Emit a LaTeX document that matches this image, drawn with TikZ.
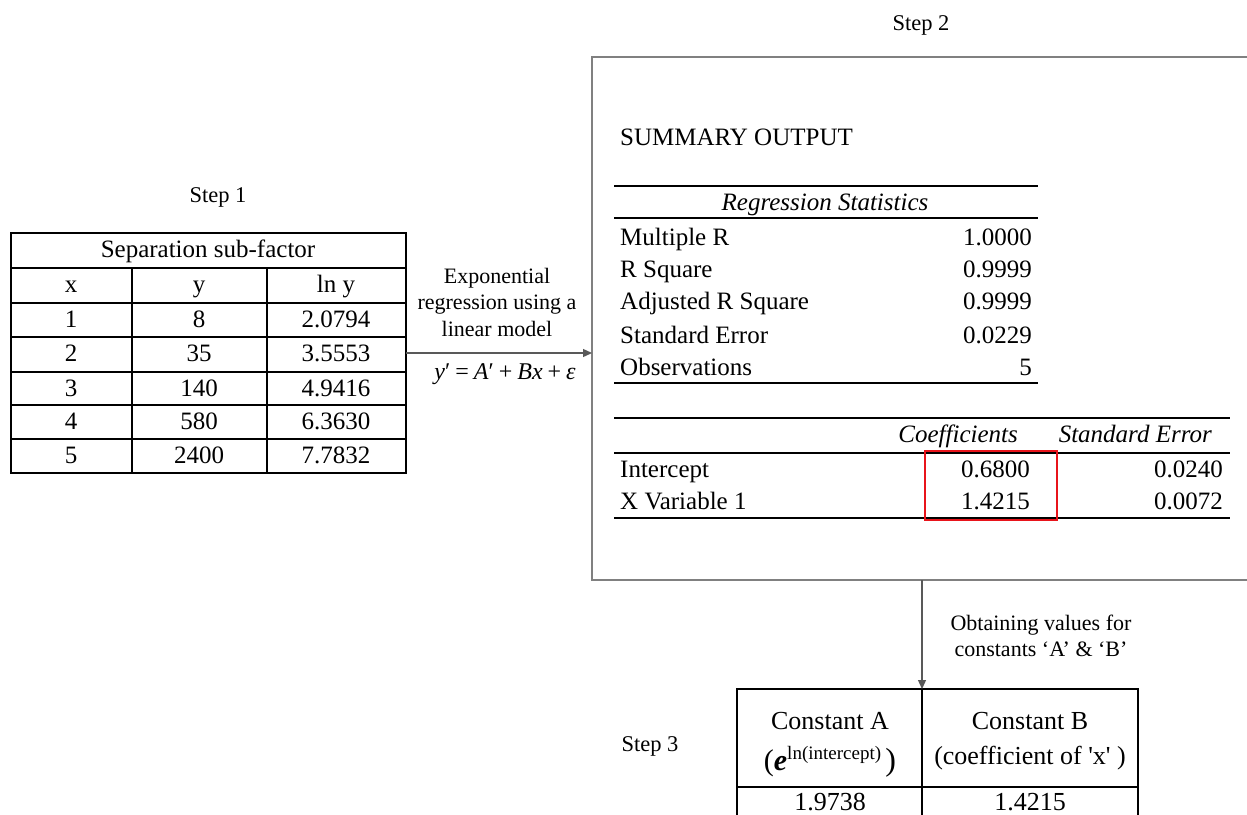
\documentclass[tikz,border=0pt]{standalone}
\usepackage{fontspec}
\setmainfont{Liberation Serif}[Ligatures=TeXOff]
\usetikzlibrary{arrows.meta}
\definecolor{frame}{HTML}{808080}
\definecolor{arrowgrey}{HTML}{595959}
\definecolor{markred}{HTML}{E8141B}
\begin{document}
\begin{tikzpicture}[x=1pt,y=-1pt,
  txt/.style={inner sep=0pt,text height=17pt,text depth=5pt,font=\fontsize{25}{28}\selectfont},
  big/.style={inner sep=0pt,font=\fontsize{26}{29}\selectfont},
  lbl/.style={inner sep=0pt,font=\fontsize{22.5}{25}\selectfont},
  note/.style={inner sep=0pt,font=\fontsize{22}{26.5}\selectfont,align=center},
  cell/.style={draw=black,line width=1.3pt},
  thick rule/.style={line width=2.6pt},
  thin rule/.style={line width=1.6pt},
  flow/.style={draw=arrowgrey,line width=1.3pt,-{Triangle[length=9pt,width=8pt]}},
  blank/.style={inner sep=0pt,outer sep=0pt}]
\useasboundingbox (0,0) rectangle (1247,814);
\begin{scope}
\clip (0,0) rectangle (1247,814);

% ---------- Step 1: data table ----------
\node[lbl] (s1) at (218,197) {Step 1};
\node[blank,draw=black,line width=1.3pt,minimum width=395pt,minimum height=240pt] (tab1) at (208.5,353) {};
\draw[cell] (11,268) -- (406,268);
\foreach \yy in {303,337,372,405,439} \draw[cell] (11,\yy) -- (406,\yy);
\draw[cell] (132,268) -- (132,473);
\draw[cell] (267,268) -- (267,473);
\node[txt] at (208,251) {Separation sub-factor};
\node[txt] at (71,286) {x};
\node[txt] at (199,286) {y};
\node[txt] at (336,286) {ln y};
\foreach \yy/\a/\b/\c in {321/1/8/2.0794, 355/2/35/3.5553, 390/3/140/4.9416, 423/4/580/6.3630, 457/5/2400/7.7832}{
  \node[txt] at (71,\yy) {\a};
  \node[txt] at (199,\yy) {\b};
  \node[txt] at (336,\yy) {\c};
}

% ---------- Step 2: regression output ----------
\node[lbl] (s2) at (921,25) {Step 2};
\node[blank,draw=frame,line width=1.4pt,minimum width=668pt,minimum height=523pt] (box) at (926,318.5) {};
\node[txt,anchor=west] at (620,139) {SUMMARY OUTPUT};

\draw[thick rule] (614,186) -- (1038,186);
\node[txt,font=\fontsize{25}{28}\selectfont\itshape] at (825,204) {Regression Statistics};
\draw[thin rule] (614,218) -- (1038,218);
\foreach \yy/\name/\val in {239/Multiple R/1.0000, 271/R Square/0.9999, 303/Adjusted R Square/0.9999, 337/Standard Error/0.0229, 369/Observations/5}{
  \node[txt,anchor=west] at (620,\yy) {\name};
  \node[txt,anchor=east] at (1032,\yy) {\val};
}
\draw[thick rule] (614,383) -- (1038,383);

\draw[thick rule] (614,418) -- (1230,418);
\node[txt,anchor=east,font=\fontsize{25}{28}\selectfont\itshape] at (1018,436) {Coefficients};
\node[txt,anchor=east,font=\fontsize{25}{28}\selectfont\itshape] at (1212,436) {Standard Error};
\draw[thin rule] (614,453) -- (1230,453);
\node[txt,anchor=west] at (620,471) {Intercept};
\node[txt,anchor=east] at (1030,471) {0.6800};
\node[txt,anchor=east] at (1223,471) {0.0240};
\node[txt,anchor=west] at (620,503) {X Variable 1};
\node[txt,anchor=east] at (1030,503) {1.4215};
\node[txt,anchor=east] at (1223,503) {0.0072};
\draw[thick rule] (614,518) -- (1230,518);
\node[blank,draw=markred,line width=2pt,minimum width=132pt,minimum height=69pt] (coef) at (991,485.5) {};

% ---------- Step 3: constants ----------
\node[lbl] (s3) at (650,746) {Step 3};
\node[blank,draw=black,line width=1.3pt,minimum width=401pt,minimum height=141pt] (tab3) at (937.5,759.5) {};
\coordinate (mid3) at (922,689);
\draw[cell] (mid3) -- (922,830);
\draw[cell] (737,787) -- (1138,787);
\node[big] at (830,721) {Constant A};
\node[big] at (830,762) {{\fontsize{30}{30}\selectfont(\textbf{\textit{e}}}\raisebox{11pt}{\fontsize{19}{19}\selectfont ln(intercept)}\,{\fontsize{32}{32}\selectfont)}};
\node[big] at (1030,721) {Constant B};
\node[big] at (1030,758) {(coefficient of 'x' )};
\node[big] at (830,802) {1.9738};
\node[big] at (1030,802) {1.4215};
\end{scope}

% ---------- connectors ----------
\draw[flow] (tab1.east) -- (tab1.east -| box.west);
\node[note] at (497,302) {Exponential\\regression using a\\linear model};
\node[note,font=\fontsize{24}{26}\selectfont] at (505,374) {\textit{y}′\hspace{5pt}=\hspace{5pt}\textit{A}′\hspace{5pt}+\hspace{5pt}\textit{Bx}\hspace{5pt}+\hspace{5pt}\textit{ε}};

\draw[flow] (mid3 |- box.south) -- (mid3);
\node[note] at (1041,636) {Obtaining values for\\constants ‘A’ \& ‘B’};
\end{tikzpicture}
\end{document}
